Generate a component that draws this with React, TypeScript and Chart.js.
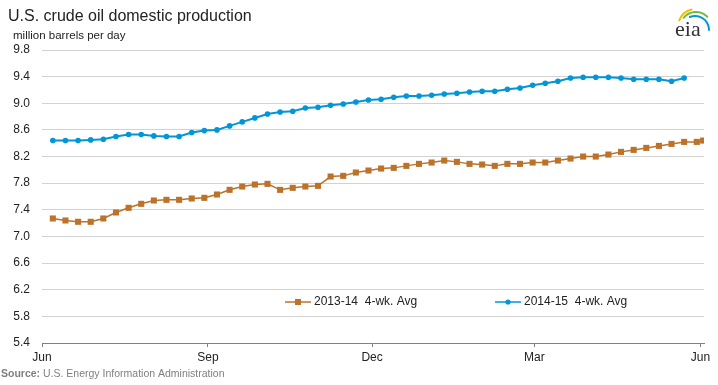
import { useEffect, useRef } from 'react';
import { Chart, registerables } from 'chart.js';

Chart.register(...registerables);

// Day offsets from June 1 (weekly, week-ending dates)
const weekDays = [
  6, 13, 20, 27, 34, 41, 48, 55, 62, 69, 76, 83, 90, 97, 104, 111, 118, 125,
  132, 139, 146, 153, 160, 167, 174, 181, 188, 195, 202, 209, 216, 223, 230,
  237, 244, 251, 258, 265, 272, 279, 286, 293, 300, 307, 314, 321, 328, 335,
  342, 349, 356, 363, 366.5,
];

// million barrels per day
const prod2013_14 = [
  7.27, 7.24, 7.22, 7.22, 7.27, 7.36, 7.43, 7.49, 7.54, 7.55, 7.55, 7.57, 7.58,
  7.63, 7.70, 7.75, 7.78, 7.79, 7.70, 7.73, 7.75, 7.76, 7.90, 7.91, 7.96, 7.99,
  8.02, 8.03, 8.06, 8.09, 8.11, 8.14, 8.12, 8.09, 8.08, 8.06, 8.09, 8.09, 8.11,
  8.11, 8.14, 8.17, 8.20, 8.20, 8.23, 8.27, 8.30, 8.33, 8.36, 8.39, 8.42, 8.42,
  8.44,
];

const prod2014_15 = [
  8.44, 8.44, 8.44, 8.45, 8.46, 8.50, 8.53, 8.53, 8.51, 8.50, 8.50, 8.56, 8.59,
  8.60, 8.66, 8.72, 8.78, 8.84, 8.87, 8.88, 8.93, 8.94, 8.97, 8.99, 9.02, 9.05,
  9.06, 9.09, 9.11, 9.11, 9.12, 9.14, 9.15, 9.17, 9.18, 9.18, 9.21, 9.23, 9.27,
  9.30, 9.33, 9.38, 9.39, 9.39, 9.39, 9.38, 9.36, 9.36, 9.36, 9.33, 9.38,
];

const seriesLabels = ['2013-14  4-wk. Avg', '2014-15  4-wk. Avg'];
const monthTickDays = [0, 92, 183, 273, 365];
const monthTickLabels = ['Jun', 'Sep', 'Dec', 'Mar', 'Jun'];
const yTickValues = [5.4, 5.8, 6.2, 6.6, 7.0, 7.4, 7.8, 8.2, 8.6, 9.0, 9.4, 9.8];

const titleText = 'U.S. crude oil domestic production';
const unitText = 'million barrels per day';
const sourceBold = 'Source:';
const sourceRest = ' U.S. Energy Information Administration';

const FONT = "'Liberation Sans', Arial, Helvetica, sans-serif";
const ORANGE = '#bd722a';
const BLUE = '#0096d7';

const decorPlugin = {
  id: 'decor',
  beforeDraw(chart: any) {
    const ctx = chart.ctx;
    ctx.save();
    ctx.fillStyle = '#ffffff';
    ctx.fillRect(0, 0, chart.width, chart.height);
    ctx.restore();
  },
  afterDatasetsDraw(chart: any) {
    const ctx = chart.ctx;
    ctx.save();
    const items = [
      { x: 285, ds: chart.data.datasets[0] },
      { x: 495, ds: chart.data.datasets[1] },
    ];
    const ly = 302;
    items.forEach(({ x, ds }, i) => {
      ctx.strokeStyle = ds.borderColor;
      ctx.lineWidth = 1.5;
      ctx.beginPath();
      ctx.moveTo(x, ly);
      ctx.lineTo(x + 26, ly);
      ctx.stroke();
      ctx.fillStyle = ds.pointBackgroundColor;
      if (i === 0) {
        ctx.fillRect(x + 13 - 3, ly - 3, 6, 6);
      } else {
        ctx.beginPath();
        ctx.arc(x + 13, ly, 2.6, 0, Math.PI * 2);
        ctx.fill();
      }
      ctx.fillStyle = '#222';
      ctx.font = `12px ${FONT}`;
      ctx.textBaseline = 'middle';
      ctx.textAlign = 'left';
      ctx.fillText(ds.label, x + 29, ly);
    });
    ctx.restore();
  },
  afterDraw(chart: any) {
    const ctx = chart.ctx;
    ctx.save();
    ctx.textAlign = 'left';
    ctx.textBaseline = 'alphabetic';
    ctx.fillStyle = '#222';
    ctx.font = `16px ${FONT}`;
    ctx.fillText(titleText, 8, 21);
    ctx.font = `11.5px ${FONT}`;
    ctx.fillText(unitText, 13, 39);

    ctx.fillStyle = '#808080';
    ctx.font = `bold 10.5px ${FONT}`;
    ctx.fillText(sourceBold, 1, 377);
    const w = ctx.measureText(sourceBold).width;
    ctx.font = `10.5px ${FONT}`;
    ctx.fillText(sourceRest, 1 + w, 377);

    // eia logo
    ctx.lineCap = 'round';
    ctx.lineWidth = 2;
    ctx.strokeStyle = '#f2c200';
    ctx.beginPath();
    ctx.arc(696, 27, 18, Math.PI * 1.12, Math.PI * 1.42);
    ctx.stroke();
    ctx.strokeStyle = '#6cbd45';
    ctx.beginPath();
    ctx.arc(696, 28, 16, Math.PI * 1.22, Math.PI * 1.75);
    ctx.stroke();
    ctx.strokeStyle = BLUE;
    ctx.beginPath();
    ctx.arc(695, 30, 14, Math.PI * 1.38, Math.PI * 2.0);
    ctx.stroke();

    ctx.fillStyle = '#333';
    ctx.font = `22px 'Liberation Serif', 'DejaVu Serif', serif`;
    ctx.fillText('eia', 675, 36);
    ctx.restore();
  },
};

export default function App() {
  const canvasRef = useRef<HTMLCanvasElement | null>(null);

  useEffect(() => {
    document.body.style.margin = '0';
    const canvas = canvasRef.current;
    if (!canvas) return;
    const chart = new Chart(canvas, {
      type: 'line',
      data: {
        datasets: [
          {
            label: seriesLabels[0],
            data: prod2013_14.map((v, i) => ({ x: weekDays[i], y: v })),
            borderColor: ORANGE,
            backgroundColor: ORANGE,
            pointBackgroundColor: ORANGE,
            pointBorderColor: ORANGE,
            pointStyle: 'rect',
            pointRadius: 4.3,
            pointBorderWidth: 0,
            borderWidth: 1.5,
            tension: 0,
          },
          {
            label: seriesLabels[1],
            data: prod2014_15.map((v, i) => ({ x: weekDays[i], y: v })),
            borderColor: BLUE,
            backgroundColor: BLUE,
            pointBackgroundColor: BLUE,
            pointBorderColor: BLUE,
            pointStyle: 'circle',
            pointRadius: 2.8,
            pointBorderWidth: 0,
            borderWidth: 2,
            tension: 0,
          },
        ],
      },
      options: {
        animation: false,
        responsive: false,
        devicePixelRatio: 1,
        layout: { padding: { left: 0, right: 14, top: 50, bottom: 0 } },
        plugins: {
          legend: { display: false },
          title: { display: false },
          tooltip: { enabled: false },
        },
        scales: {
          x: {
            type: 'linear',
            min: 0,
            max: 367,
            afterBuildTicks: (s: any) => {
              s.ticks = monthTickDays.map((v) => ({ value: v }));
            },
            afterFit: (s: any) => {
              s.height = 42;
            },
            ticks: {
              autoSkip: false,
              maxRotation: 0,
              padding: 3,
              color: '#222',
              font: { family: FONT, size: 12 },
              callback: (v: any) => {
                const idx = monthTickDays.indexOf(Number(v));
                return idx >= 0 ? monthTickLabels[idx] : '';
              },
            },
            grid: {
              drawOnChartArea: false,
              drawTicks: true,
              tickLength: 4,
              color: '#808080',
            },
            border: { display: true, color: '#808080', width: 1 },
          },
          y: {
            type: 'linear',
            min: 5.4,
            max: 9.8,
            afterBuildTicks: (s: any) => {
              s.ticks = yTickValues.map((v) => ({ value: v }));
            },
            afterFit: (s: any) => {
              s.width = 42;
            },
            ticks: {
              padding: 12,
              color: '#222',
              font: { family: FONT, size: 12 },
              callback: (v: any) => Number(v).toFixed(1),
            },
            grid: {
              drawTicks: false,
              color: '#d2d2d2',
              lineWidth: 1,
            },
            border: { display: false },
          },
        },
      },
      plugins: [decorPlugin],
    });
    return () => chart.destroy();
  }, []);

  return (
    <div style={{ position: 'absolute', left: 0, top: 0, width: 718, height: 385 }}>
      <canvas ref={canvasRef} width={718} height={385} />
    </div>
  );
}
